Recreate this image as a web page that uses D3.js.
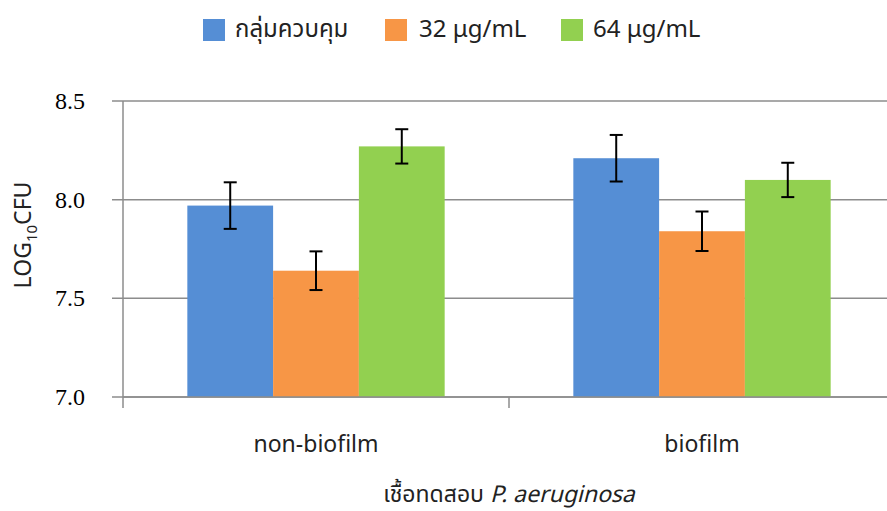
<!DOCTYPE html>
<html>
<head>
<meta charset="utf-8">
<script src="https://cdn.jsdelivr.net/npm/d3@7"></script>
<style>
  html, body { margin: 0; padding: 0; background: #ffffff; }
  svg { display: block; }
</style>
</head>
<body>
<svg id="chart" width="887" height="511"></svg>
<script>
// Bacterial counts (log10 CFU) for P. aeruginosa, by strain type and treatment
const categories = ["non-biofilm", "biofilm"];
const seriesNames = ["กลุ่มควบคุม", "32 μg/mL", "64 μg/mL"];
const seriesColors = ["#558ed5", "#f79646", "#92d050"];
const meanValues = [
  [7.97, 8.21],   // control
  [7.64, 7.84],   // 32 μg/mL
  [8.27, 8.10]    // 64 μg/mL
];
const errorValues = [
  [0.118, 0.118],
  [0.098, 0.100],
  [0.087, 0.087]
];
const yTicks = [7.0, 7.5, 8.0, 8.5];

const SERIF = '"Liberation Serif", "Times New Roman", serif';
const THAI = '"Noto Sans Thai", "Noto Sans", sans-serif';
const SANS = '"Noto Sans", "Liberation Sans", sans-serif';

const svg = d3.select("#chart");

const plot = { left: 123, right: 895, top: 101, bottom: 397 };

const x0 = d3.scaleBand()
  .domain(categories)
  .range([plot.left, plot.right])
  .paddingInner(0)
  .paddingOuter(0);

// 150% gap width between groups
const groupWidth = x0.bandwidth() / (1 + 1.5 / 3);
const x1 = d3.scaleBand()
  .domain(d3.range(seriesNames.length))
  .range([0, groupWidth]);
const groupOffset = (x0.bandwidth() - groupWidth) / 2;

const y = d3.scaleLinear().domain([7.0, 8.5]).range([plot.bottom, plot.top]);

// Horizontal gridlines
svg.append("g")
  .selectAll("line")
  .data(yTicks)
  .join("line")
  .attr("x1", plot.left - 11)
  .attr("x2", plot.right)
  .attr("y1", d => y(d))
  .attr("y2", d => y(d))
  .attr("stroke", "#8c8c8c")
  .attr("stroke-width", 1.5);

// Y tick labels
svg.append("g")
  .selectAll("text")
  .data(yTicks)
  .join("text")
  .attr("x", 85)
  .attr("y", d => y(d))
  .attr("dy", "0.34em")
  .attr("text-anchor", "end")
  .style("font-family", SERIF)
  .style("font-size", "24px")
  .attr("fill", "#000")
  .text(d => d.toFixed(1));

// Bars
const rows = [];
seriesNames.forEach((s, si) => {
  categories.forEach((c, ci) => {
    rows.push({ si, c, v: meanValues[si][ci], e: errorValues[si][ci] });
  });
});

svg.append("g")
  .selectAll("rect")
  .data(rows)
  .join("rect")
  .attr("x", d => x0(d.c) + groupOffset + x1(d.si))
  .attr("width", x1.bandwidth())
  .attr("y", d => y(d.v))
  .attr("height", d => y(7.0) - y(d.v))
  .attr("fill", d => seriesColors[d.si]);

// Axis lines and ticks
const axisG = svg.append("g").attr("stroke", "#8c8c8c").attr("stroke-width", 1.5);
axisG.append("line")
  .attr("x1", plot.left).attr("x2", plot.left)
  .attr("y1", plot.top).attr("y2", plot.bottom + 11);
axisG.append("line")
  .attr("x1", plot.left).attr("x2", plot.right)
  .attr("y1", plot.bottom).attr("y2", plot.bottom);
axisG.selectAll("line.xt")
  .data(categories.slice(1))
  .join("line")
  .attr("class", "xt")
  .attr("x1", d => x0(d)).attr("x2", d => x0(d))
  .attr("y1", plot.bottom).attr("y2", plot.bottom + 11);

// Error bars
const capHalf = 6.5;
const eb = svg.append("g").attr("stroke", "#000").attr("stroke-width", 2);
rows.forEach(d => {
  const cx = x0(d.c) + groupOffset + x1(d.si) + x1.bandwidth() / 2;
  const yt = y(d.v + d.e), yb = y(d.v - d.e);
  eb.append("line").attr("x1", cx).attr("x2", cx).attr("y1", yt).attr("y2", yb);
  eb.append("line").attr("x1", cx - capHalf).attr("x2", cx + capHalf).attr("y1", yt).attr("y2", yt);
  eb.append("line").attr("x1", cx - capHalf).attr("x2", cx + capHalf).attr("y1", yb).attr("y2", yb);
});

// Category labels
svg.append("g")
  .selectAll("text")
  .data(categories)
  .join("text")
  .attr("x", d => x0(d) + x0.bandwidth() / 2)
  .attr("y", 452)
  .attr("text-anchor", "middle")
  .style("font-family", THAI)
  .style("font-size", "23px")
  .attr("fill", "#222")
  .text(d => d);

// X axis title
const xt = svg.append("text")
  .attr("x", 509)
  .attr("y", 502)
  .attr("text-anchor", "middle")
  .style("font-family", THAI)
  .style("font-size", "23px")
  .attr("fill", "#222");
xt.append("tspan").text("เชื้อทดสอบ ");
xt.append("tspan").attr("font-style", "italic").text("P. aeruginosa");

// Y axis title
const yt = svg.append("text")
  .attr("transform", "translate(31,235) rotate(-90)")
  .attr("text-anchor", "middle")
  .style("font-family", SANS)
  .style("font-size", "23px")
  .attr("fill", "#222");
yt.append("tspan").text("LOG");
yt.append("tspan").style("font-size", "15px").attr("dy", 6).text("10");
yt.append("tspan").attr("dy", -6).text("CFU");

// Legend
const legendItems = [
  { x: 203, tx: 235 },
  { x: 385, tx: 419 },
  { x: 561, tx: 593 }
];
const lg = svg.append("g");
seriesNames.forEach((name, i) => {
  lg.append("rect")
    .attr("x", legendItems[i].x)
    .attr("y", 19)
    .attr("width", 22)
    .attr("height", 22)
    .attr("fill", seriesColors[i]);
  lg.append("text")
    .attr("x", legendItems[i].tx)
    .attr("y", 37)
    .style("font-family", THAI)
    .style("font-size", "24px")
    .attr("fill", "#222")
    .text(name);
});
</script>
</body>
</html>
